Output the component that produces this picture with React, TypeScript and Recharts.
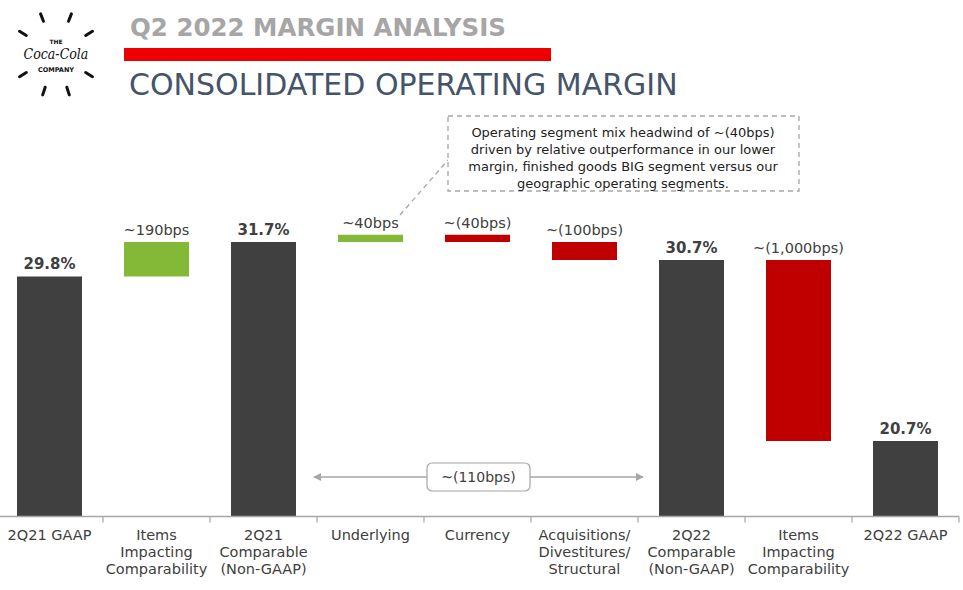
import { BarChart, Bar, XAxis, YAxis, Cell, LabelList } from "recharts";

// values in percentage points; totals are full bars, deltas float
const categories = [
  "2Q21 GAAP",
  "Items\nImpacting\nComparability",
  "2Q21\nComparable\n(Non-GAAP)",
  "Underlying",
  "Currency",
  "Acquisitions/\nDivestitures/\nStructural",
  "2Q22\nComparable\n(Non-GAAP)",
  "Items\nImpacting\nComparability",
  "2Q22 GAAP",
];
const totals = [29.8, null, 31.7, null, null, null, 30.7, null, 20.7];
const deltas = [null, 1.9, null, 0.4, -0.4, -1.0, null, -10.0, null];
const barLabels = [
  "29.8%",
  "~190bps",
  "31.7%",
  "~40bps",
  "~(40bps)",
  "~(100bps)",
  "30.7%",
  "~(1,000bps)",
  "20.7%",
];
const noteLines = [
  "Operating segment mix headwind of ~(40bps)",
  "driven by relative outperformance in our lower",
  "margin, finished goods BIG segment versus our",
  "geographic operating segments.",
];
const bracketLabel = "~(110bps)";

const AXIS_MIN = 16.53;
const AXIS_MAX = 34;

const colors = {
  total: "#404040",
  up: "#84b938",
  down: "#c00000",
  axis: "#a6a6a6",
  text: "#404040",
  title: "#a6a6a6",
  subtitle: "#44546a",
  redRule: "#ee0000",
};

const FONT = "'DejaVu Sans', 'Open Sans', sans-serif";
const CHART_W = 967;
const BAND = 963 / categories.length;

let level = 0;
const data = categories.map((name, i) => {
  const t = totals[i];
  const d = deltas[i];
  let range: [number, number];
  let kind: "total" | "up" | "down";
  if (t !== null) {
    level = t;
    range = [AXIS_MIN, t];
    kind = "total";
  } else {
    const start = level;
    level = start + (d as number);
    range = [Math.min(start, level), Math.max(start, level)];
    kind = (d as number) >= 0 ? "up" : "down";
  }
  return { name, range, kind, label: barLabels[i] };
});

const AxisTick = (props: any) => {
  const { x, y, payload } = props;
  const lines = String(payload.value).split("\n");
  return (
    <g>
      <line
        x1={x + BAND / 2}
        x2={x + BAND / 2}
        y1={y}
        y2={y + 6}
        stroke={colors.axis}
        strokeWidth={1.2}
      />
      {lines.map((line, i) => (
        <text
          key={i}
          x={x}
          y={y + 23.5 + i * 17}
          textAnchor="middle"
          fontSize={14.5}
          fontFamily={FONT}
          fill={colors.text}
        >
          {line}
        </text>
      ))}
    </g>
  );
};

const BarLabel = (props: any) => {
  const { x, y, width, index, value } = props;
  const isTotal = data[index]?.kind === "total";
  return (
    <text
      x={x + width / 2}
      y={y - 7}
      textAnchor="middle"
      fontSize={isTotal ? 15 : 14.5}
      fontFamily={FONT}
      fontWeight={isTotal ? 700 : 400}
      fill={colors.text}
    >
      {value}
    </text>
  );
};

function Logo() {
  const cx = 56;
  const cy = 54;
  const angles = [-111, -69, -148, -32, 148, 32, 108, 72];
  return (
    <svg width={120} height={110} style={{ position: "absolute", left: 0, top: 0 }}>
      {angles.map((a) => {
        const r = (a * Math.PI) / 180;
        return (
          <line
            key={a}
            x1={cx + Math.cos(r) * 35}
            y1={cy + Math.sin(r) * 35}
            x2={cx + Math.cos(r) * 43}
            y2={cy + Math.sin(r) * 43}
            stroke="#111"
            strokeWidth={3}
            strokeLinecap="round"
          />
        );
      })}
      <text x={cx} y={44} textAnchor="middle" fontSize={6} fontWeight={700} fontFamily={FONT} fill="#111">
        THE
      </text>
      <text
        x={cx}
        y={59}
        textAnchor="middle"
        fontSize={14}
        fontStyle="italic"
        fontFamily="'DejaVu Serif Condensed', 'Liberation Serif', serif"
        fill="#111"
      >
        Coca-Cola
      </text>
      <text x={cx} y={72} textAnchor="middle" fontSize={6.5} fontWeight={700} fontFamily={FONT} fill="#111">
        COMPANY
      </text>
    </svg>
  );
}

function Overlay() {
  return (
    <svg
      width={963}
      height={590}
      style={{ position: "absolute", left: 0, top: 0, pointerEvents: "none" }}
    >
      <defs>
        <marker id="arrowHead" viewBox="0 0 10 10" refX="9" refY="5" markerWidth="5" markerHeight="5" orient="auto-start-reverse">
          <path d="M0,0 L10,5 L0,10 z" fill={colors.axis} />
        </marker>
      </defs>
      {/* note box */}
      <line x1={400} y1={215} x2={448} y2={160} stroke={colors.axis} strokeWidth={1.3} strokeDasharray="5 4" />
      <rect x={448} y={116} width={351} height={75} fill="#fff" stroke={colors.axis} strokeWidth={1.3} strokeDasharray="5 4" />
      {noteLines.map((line, i) => (
        <text
          key={i}
          x={623}
          y={136.5 + i * 17}
          textAnchor="middle"
          fontSize={13}
          fontFamily={FONT}
          fill="#222"
        >
          {line}
        </text>
      ))}
      {/* bracket */}
      <line
        x1={314}
        y1={477}
        x2={643}
        y2={477}
        stroke={colors.axis}
        strokeWidth={1.6}
        markerStart="url(#arrowHead)"
        markerEnd="url(#arrowHead)"
      />
      <rect x={427} y={463} width={103} height={28} rx={5} fill="#fff" stroke={colors.axis} strokeWidth={1.2} />
      <text x={478.5} y={482} textAnchor="middle" fontSize={14} fontFamily={FONT} fill={colors.text}>
        {bracketLabel}
      </text>
    </svg>
  );
}

export default function App() {
  return (
    <div
      style={{
        position: "absolute",
        left: 0,
        top: 0,
        width: 963,
        height: 590,
        overflow: "hidden",
        background: "#fff",
        fontFamily: FONT,
      }}
    >
      <Logo />
      <div
        style={{
          position: "absolute",
          left: 130,
          top: 12,
          fontSize: 24.5,
          fontWeight: 700,
          color: colors.title,
          lineHeight: "32px",
          whiteSpace: "nowrap",
        }}
      >
        Q2 2022 MARGIN ANALYSIS
      </div>
      <div
        style={{
          position: "absolute",
          left: 124,
          top: 48,
          width: 427,
          height: 13,
          background: colors.redRule,
        }}
      />
      <div
        style={{
          position: "absolute",
          left: 129,
          top: 66,
          fontSize: 30,
          color: colors.subtitle,
          lineHeight: "38px",
          whiteSpace: "nowrap",
        }}
      >
        CONSOLIDATED OPERATING MARGIN
      </div>
      <div style={{ position: "absolute", left: -4, top: 0 }}>
        <BarChart
          width={CHART_W}
          height={590}
          data={data}
          margin={{ top: 200.4, right: 4, left: 0, bottom: 13.5 }}
        >
          <XAxis
            dataKey="name"
            interval={0}
            height={60}
            tickSize={0}
            tickMargin={0}
            tickLine={false}
            axisLine={{ stroke: colors.axis, strokeWidth: 1.5 }}
            tick={<AxisTick />}
          />
          <YAxis hide domain={[AXIS_MIN, AXIS_MAX]} />
          <Bar dataKey="range" barSize={65} isAnimationActive={false}>
            {data.map((d, i) => (
              <Cell key={i} fill={colors[d.kind]} />
            ))}
            <LabelList dataKey="label" content={<BarLabel />} />
          </Bar>
        </BarChart>
      </div>
      <Overlay />
    </div>
  );
}
